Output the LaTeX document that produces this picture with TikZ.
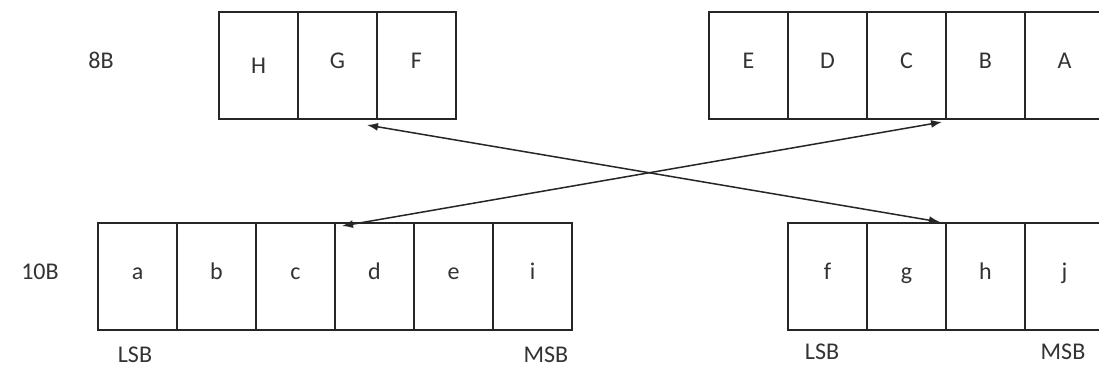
\documentclass[tikz,border=0pt]{standalone}
\usepackage{fontspec}
\setmainfont{Carlito}
\usetikzlibrary{arrows.meta}
\definecolor{ink}{HTML}{262626}
\definecolor{txt}{HTML}{333333}
\begin{document}
\begin{tikzpicture}[x=1pt,y=-1pt,
  cell/.style={draw=ink,line width=1.4pt,minimum width=79pt,minimum height=107pt,
    inner sep=0pt,outer sep=0pt,anchor=north west,text=txt,font=\fontsize{24}{24}\selectfont,
    text height=17pt,text depth=12pt},
  lbl/.style={text=txt,font=\fontsize{24}{24}\selectfont,inner sep=0pt},
  link/.style={draw=ink,line width=1.5pt,{Latex[length=11pt,width=8pt]}-{Latex[length=11pt,width=8pt]}}]
\clip (0,0) rectangle (1099,367);
\fill[white] (0,0) rectangle (1099,367);

% 8-bit register, upper half (H G F)
\node[cell] (H) at (219,12) {\raisebox{-5pt}{H}};
\node[cell] (G) at (H.north east) {G};
\node[cell] (F) at (G.north east) {F};

% 8-bit register, lower half (E D C B A)
\node[cell] (E) at (709,12) {E};
\node[cell] (D) at (E.north east) {D};
\node[cell] (C) at (D.north east) {C};
\node[cell] (B) at (C.north east) {B};
\node[cell] (A) at (B.north east) {A};

% 10-bit register, first word
\node[cell] (a) at (98,223) {a};
\node[cell] (b) at (a.north east) {b};
\node[cell] (c) at (b.north east) {c};
\node[cell] (d) at (c.north east) {d};
\node[cell] (e) at (d.north east) {e};
\node[cell] (i) at (e.north east) {i};

% 10-bit register, second word
\node[cell] (f) at (788,223) {f};
\node[cell] (g) at (f.north east) {g};
\node[cell] (h) at (g.north east) {h};
\node[cell] (j) at (h.north east) {j};

% row and bit-order labels
\node[lbl] (l8)  at (101,60)  {8B};
\node[lbl] (l10) at (40,272)  {10B};
\node[lbl] (lsb1) at (135,355) {LSB};
\node[lbl] (msb1) at (546,355) {MSB};
\node[lbl] (lsb2) at (822,352) {LSB};
\node[lbl] (msb2) at (1063,352) {MSB};

% arrow end points just off the cell corners
\coordinate (p1) at ([shift={(-10,6)}]G.south east);
\coordinate (p2) at ([shift={(-6,-1)}]g.north east);
\coordinate (p3) at ([shift={(-4,3)}]C.south east);
\coordinate (p4) at ([shift={(7,3)}]c.north east);

\draw[link] (p1) -- (p2);
\draw[link] (p3) -- (p4);
\end{tikzpicture}
\end{document}
